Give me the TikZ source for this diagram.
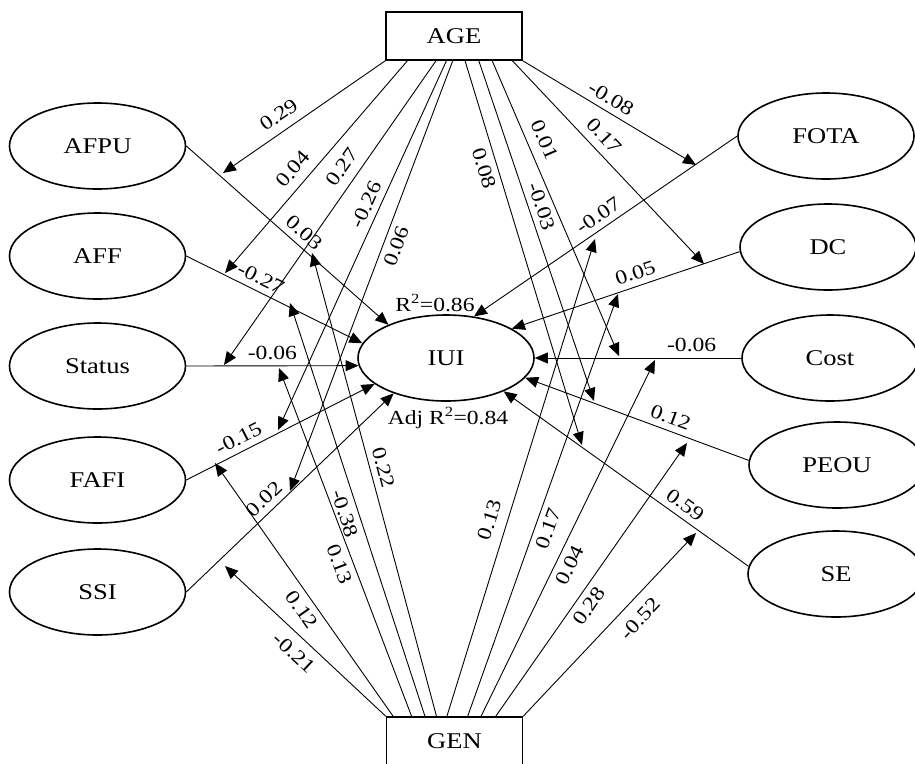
\documentclass[tikz,border=0pt]{standalone}
\usepackage{fontspec}
\setmainfont{Liberation Serif}[FakeStretch=1.18]
\usetikzlibrary{arrows.meta,shapes.geometric}

\begin{document}
\begin{tikzpicture}[x=1pt,y=-1pt,
    cnode/.style={draw,ellipse,line width=1.6pt,minimum width=176pt,minimum height=86pt,inner sep=0pt,font=\fontsize{22.5}{27}\selectfont},
    bnode/.style={draw,rectangle,line width=1.6pt,minimum width=136pt,minimum height=48pt,inner sep=0pt,font=\fontsize{22.5}{27}\selectfont},
    coef/.style={sloped,inner sep=6pt,font=\fontsize{20}{24}\selectfont},
    link/.style={-{Triangle[length=13pt,width=11pt]},line width=0.9pt}]
    \useasboundingbox (0,0) rectangle (915,763);

    \node[bnode] (AGE) at (454,36) {AGE};
    \node[bnode] (GEN) at (454.5,741) {GEN};
    \node[cnode] (IUI) at (446,358) {IUI};
    \node[font=\fontsize{20}{24}\selectfont] (R2) at (435,303) {R\textsuperscript{2}=0.86};
    \node[font=\fontsize{20}{24}\selectfont] (adjR2) at (448,418) {Adj R\textsuperscript{2}=0.84};

    \node[cnode] (AFPU) at (97.5,146) {AFPU};
    \node[cnode] (AFF) at (97.5,256) {AFF};
    \node[cnode] (Status) at (97.5,366) {Status};
    \node[cnode] (FAFI) at (97.5,480) {FAFI};
    \node[cnode] (SSI) at (97.5,592) {SSI};

    \node[cnode] (FOTA) at (826,136) {FOTA};
    \node[cnode] (DC) at (828,247) {DC};
    \node[cnode] (Cost) at (830,358) {Cost};
    \node[cnode] (PEOU) at (837,465) {PEOU};
    \node[cnode] (SE) at (836,574) {SE};

    % direct paths
    \draw[link] (AFPU.east) -- node[coef,pos=.54,above] {0.03} (IUI.150);
    \draw[link] (AFF.east) -- node[coef,pos=.39,above] {-0.27} (IUI.170);
    \draw[link] (Status.east) -- node[coef,pos=.5,above] {-0.06} (IUI.185);
    \draw[link] (FAFI.east) -- node[coef,pos=.31,above] {-0.15} (IUI.200);
    \draw[link] (SSI.east) -- node[coef,pos=.42,above] {0.02} (IUI.214);
    \draw[link] (FOTA.west) -- node[coef,pos=.5,above] {-0.07} (IUI.56);
    \draw[link] (DC.183) -- node[coef,pos=.44,above] {0.05} (IUI.24);
    \draw[link] (Cost.west) -- node[coef,pos=.24,above] {-0.06} (IUI.east);
    \draw[link] (PEOU.177) -- node[coef,pos=.37,above] {0.12} (IUI.346);
    \draw[link] (SE.175) -- node[coef,pos=.29,above] {0.59} (IUI.330);

    % moderation by AGE
    \coordinate (aAFPU) at (223,173);
    \coordinate (aAFF) at (225,273);
    \coordinate (aStatus) at (224,365);
    \coordinate (aFAFI) at (278,430);
    \coordinate (aSSI) at (290,491);
    \coordinate (aSE) at (582,445);
    \coordinate (aPEOU) at (594,401);
    \coordinate (aCost) at (619,356);
    \coordinate (aDC) at (704,264);
    \coordinate (aFOTA) at (696,165);

    \draw[link] (AGE.south west) -- node[coef,pos=.6,above=3pt] {0.29} (aAFPU);
    \draw[link] (AGE.208.6) -- node[coef,pos=.56,above=3pt] {0.04} (aAFF);
    \draw[link] (AGE.234.7) -- node[coef,pos=.38,above=3pt] {0.27} (aStatus);
    \draw[link] (AGE.253.7) -- node[coef,pos=.405,above] {-0.26} (aFAFI);
    \draw[link] (AGE.267.6) -- node[coef,pos=.42,below] {0.06} (aSSI);
    \draw[link] (AGE.294.6) -- node[coef,pos=.27,below] {0.08} (aSE);
    \draw[link] (AGE.315) -- node[coef,pos=.44,above] {-0.03} (aPEOU);
    \draw[link] (AGE.327.7) -- node[coef,pos=.29,above=4pt] {0.01} (aCost);
    \draw[link] (AGE.337.5) -- node[coef,pos=.42,above=2pt] {0.17} (aDC);
    \draw[link] (AGE.south east) -- node[coef,pos=.47,above] {-0.08} (aFOTA);

    % moderation by GEN
    \coordinate (gSSI) at (225,566);
    \coordinate (gFAFI) at (215,463);
    \coordinate (gStatus) at (279,368);
    \coordinate (gAFF) at (290,303);
    \coordinate (gAFPU) at (312,253);
    \coordinate (gFOTA) at (595,239);
    \coordinate (gDC) at (618,294);
    \coordinate (gCost) at (655,360);
    \coordinate (gPEOU) at (687,443);
    \coordinate (gSE) at (696,533);

    \draw[link] (GEN.north west) -- node[coef,pos=.5,below=3pt] {-0.21} (gSSI);
    \draw[link] (GEN.158) -- node[coef,pos=.45,below] {0.12} (gFAFI);
    \draw[link] (GEN.150.5) -- node[coef,pos=.45,below] {0.13} (gStatus);
    \draw[link] (GEN.140.9) -- node[coef,pos=.5,below] {-0.38} (gAFF);
    \draw[link] (GEN.126.1) -- node[coef,pos=.53,above] {0.22} (gAFPU);
    \draw[link] (GEN.107.4) -- node[coef,pos=.4,above=4pt] {0.13} (gFOTA);
    \draw[link] (GEN.62.5) -- node[coef,pos=.455,below] {0.17} (gDC);
    \draw[link] (GEN.43.3) -- node[coef,pos=.44,below] {0.04} (gCost);
    \draw[link] (GEN.31.9) -- node[coef,pos=.43,below] {0.28} (gPEOU);
    \draw[link] (GEN.north east) -- node[coef,pos=.6,below=5pt] {-0.52} (gSE);
\end{tikzpicture}
\end{document}
